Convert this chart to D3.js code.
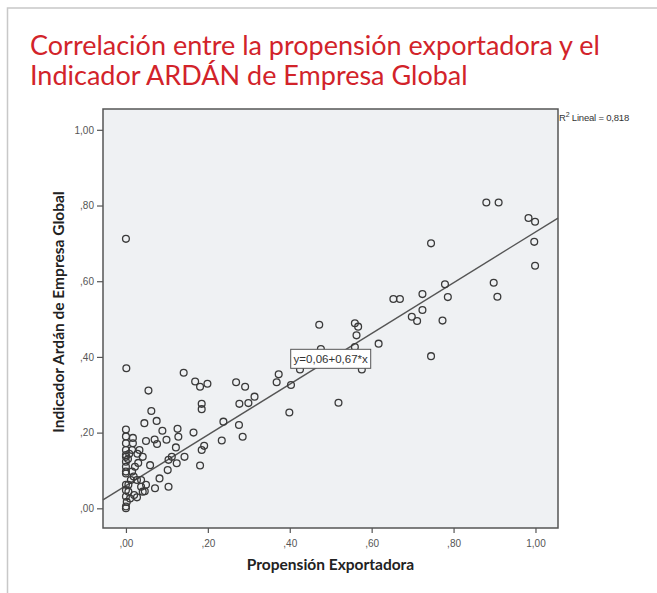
<!DOCTYPE html>
<html>
<head>
<meta charset="utf-8">
<script src="https://cdn.jsdelivr.net/npm/d3@7"></script>
<style>
body { margin: 0; background: #fff; }
</style>
</head>
<body>
<div id="chart"></div>
<script>
// title lines and axis names
var titleLines = ["Correlación entre la propensión exportadora y el", "Indicador ARDÁN de Empresa Global"];
var xName = "Propensión Exportadora";
var yName = "Indicador Ardán de Empresa Global";

// tick values (labels are written ",20" style)
var xTicks = [0, 0.2, 0.4, 0.6, 0.8, 1.0];
var yTicks = [0, 0.2, 0.4, 0.6, 0.8, 1.0];

// fit line
var intercept = 0.06;
var slope = 0.67;
var rSquared = 0.818;

// propension exportadora (x) of each company
var propension = [
    0.000, 0.001, 0.880, 0.910, 0.983, 0.999, 0.997, 0.999, 0.745, 0.898,
    0.907, 0.779, 0.786, 0.653, 0.669, 0.724, 0.724, 0.698, 0.711, 0.773,
    0.617, 0.745, 0.559, 0.567, 0.563, 0.559, 0.576, 0.472, 0.476, 0.425,
    0.519, 0.399, 0.403, 0.373, 0.368, 0.314, 0.299, 0.277, 0.269, 0.291,
    0.199, 0.181, 0.169, 0.141, 0.055, 0.185, 0.185, 0.238, 0.276, 0.285,
    0.234, 0.191, 0.185, 0.181, 0.062, 0.045, 0.075, 0.000, 0.000, 0.017,
    0.017, 0.000, 0.089, 0.126, 0.128, 0.165, 0.049, 0.070, 0.076, 0.099,
    0.122, 0.000, 0.015, 0.033, 0.041, 0.028, 0.008, 0.000, 0.005, 0.000,
    0.000, 0.000, 0.015, 0.019, 0.012, 0.027, 0.037, 0.037, 0.049, 0.041,
    0.006, 0.006, 0.000, 0.002, 0.000, 0.027, 0.071, 0.082, 0.104, 0.059,
    0.104, 0.112, 0.124, 0.143, 0.102, 0.000, 0.020, 0.046, 0.000, 0.000,
    0.000, 0.010, 0.030, 0.022, 0.000
];
// indicador ardan (y) of each company
var indicador = [
    0.712, 0.370, 0.808, 0.808, 0.767, 0.757, 0.704, 0.641, 0.700, 0.596,
    0.559, 0.592, 0.558, 0.553, 0.553, 0.566, 0.524, 0.506, 0.495, 0.496,
    0.435, 0.402, 0.489, 0.480, 0.457, 0.426, 0.367, 0.485, 0.421, 0.367,
    0.279, 0.253, 0.326, 0.354, 0.333, 0.295, 0.278, 0.276, 0.333, 0.321,
    0.329, 0.321, 0.335, 0.358, 0.311, 0.276, 0.262, 0.229, 0.220, 0.189,
    0.179, 0.165, 0.154, 0.113, 0.257, 0.225, 0.231, 0.208, 0.190, 0.186,
    0.172, 0.172, 0.205, 0.210, 0.189, 0.200, 0.178, 0.182, 0.170, 0.181,
    0.161, 0.154, 0.154, 0.154, 0.136, 0.144, 0.144, 0.136, 0.130, 0.123,
    0.110, 0.097, 0.097, 0.084, 0.075, 0.075, 0.075, 0.057, 0.062, 0.044,
    0.062, 0.044, 0.031, 0.017, 0.000, 0.029, 0.053, 0.079, 0.057, 0.114,
    0.128, 0.136, 0.119, 0.136, 0.101, 0.005, 0.035, 0.045, 0.141, 0.092,
    0.048, 0.026, 0.120, 0.110, 0.062
];

var W = 657, H = 593;
// plot frame position
var margin = {top: 109, right: 99, bottom: 65, left: 103};
var width = W - margin.left - margin.right;
var height = H - margin.top - margin.bottom;

var svg = d3.select("#chart").append("svg")
    .attr("width", W)
    .attr("height", H);

// outer light frame of the picture
svg.append("rect")
    .attr("x", 7.5).attr("y", 8)
    .attr("width", W + 20).attr("height", H + 20)
    .attr("fill", "none")
    .attr("stroke", "#c8c8c8")
    .attr("stroke-width", 1.5);

// title
svg.selectAll(".title")
    .data(titleLines)
    .enter().append("text")
    .attr("class", "title")
    .attr("x", 30)
    .attr("y", function(d, i){ return 55 + i * 30; })
    .style("font-family", "Lato, 'Open Sans', sans-serif")
    .style("font-size", "27px")
    .style("fill", "#d2232a")
    .text(function(d){ return d; });

var g = svg.append("g")
    .attr("transform", "translate(" + margin.left + "," + margin.top + ")");

var x = d3.scaleLinear().domain([-0.056, 1.055]).range([0, width]);
var y = d3.scaleLinear().domain([-0.052, 1.055]).range([height, 0]);

var fmt = function(v){ return d3.format(".2f")(v).replace(".", ",").replace(/^0/, ""); };

g.append("rect")
    .attr("width", width)
    .attr("height", height)
    .attr("fill", "#eff1f3");

// axes
var xAxis = g.append("g")
    .attr("transform", "translate(0," + height + ")")
    .call(d3.axisBottom(x).tickValues(xTicks).tickFormat(fmt).tickSize(5).tickSizeOuter(0));
var yAxis = g.append("g")
    .call(d3.axisLeft(y).tickValues(yTicks).tickFormat(fmt).tickSize(6).tickSizeOuter(0));

[xAxis, yAxis].forEach(function(a){
    a.select(".domain").remove();
    a.selectAll("line").attr("stroke", "#555").attr("stroke-width", 1.2);
    a.selectAll("text")
        .style("font-family", "'Liberation Sans', Arial, sans-serif")
        .style("font-size", "10px")
        .style("fill", "#555");
});
xAxis.selectAll("text").attr("dy", "1.1em");

// regression line
var x0 = x.domain()[0], x1 = x.domain()[1];
g.append("line")
    .attr("x1", x(x0)).attr("y1", y(intercept + slope * x0))
    .attr("x2", x(x1)).attr("y2", y(intercept + slope * x1))
    .attr("stroke", "#555")
    .attr("stroke-width", 1.4);

// points
var points = propension.map(function(d, i){ return {x: d, y: indicador[i]}; });
g.selectAll(".dot")
    .data(points)
    .enter().append("circle")
    .attr("class", "dot")
    .attr("cx", function(d){ return x(d.x); })
    .attr("cy", function(d){ return y(d.y); })
    .attr("r", 3.4)
    .attr("fill", "none")
    .attr("stroke", "#3a3a3a")
    .attr("stroke-width", 1.3);

// equation label on the line at x = 0.5
var eqX = x(0.5), eqY = y(intercept + slope * 0.5);
g.append("rect")
    .attr("x", eqX - 40).attr("y", eqY - 9.5)
    .attr("width", 80).attr("height", 19)
    .attr("fill", "#fff")
    .attr("stroke", "#555");
g.append("text")
    .attr("x", eqX).attr("y", eqY + 4)
    .attr("text-anchor", "middle")
    .style("font-family", "'Liberation Sans', Arial, sans-serif")
    .style("font-size", "11.5px")
    .style("fill", "#333")
    .text("y=" + fmt(intercept).replace(/^,/, "0,") + "+" + fmt(slope).replace(/^,/, "0,") + "*x");

// frame
g.append("rect")
    .attr("width", width)
    .attr("height", height)
    .attr("fill", "none")
    .attr("stroke", "#555")
    .attr("stroke-width", 1.5);

// R2 label
var r2 = g.append("text")
    .attr("x", width + 1).attr("y", 12)
    .style("font-family", "'Liberation Sans', Arial, sans-serif")
    .style("font-size", "9.5px")
    .style("letter-spacing", "-0.2px")
    .style("fill", "#333");
r2.append("tspan").text("R");
r2.append("tspan").attr("dy", -4).style("font-size", "7px").text("2");
r2.append("tspan").attr("dy", 4).text(" Lineal = " + d3.format(".3f")(rSquared).replace(".", ","));

// axis titles
svg.append("text")
    .attr("x", margin.left + width / 2)
    .attr("y", 570)
    .attr("text-anchor", "middle")
    .style("font-family", "Lato, sans-serif")
    .style("font-weight", "bold")
    .style("font-size", "15.5px")
    .style("fill", "#222")
    .text(xName);

svg.append("text")
    .attr("transform", "translate(64," + 312 + ") rotate(-90)")
    .attr("text-anchor", "middle")
    .style("font-family", "Lato, sans-serif")
    .style("font-weight", "bold")
    .style("font-size", "15.5px")
    .style("fill", "#222")
    .text(yName);
</script>
</body>
</html>
